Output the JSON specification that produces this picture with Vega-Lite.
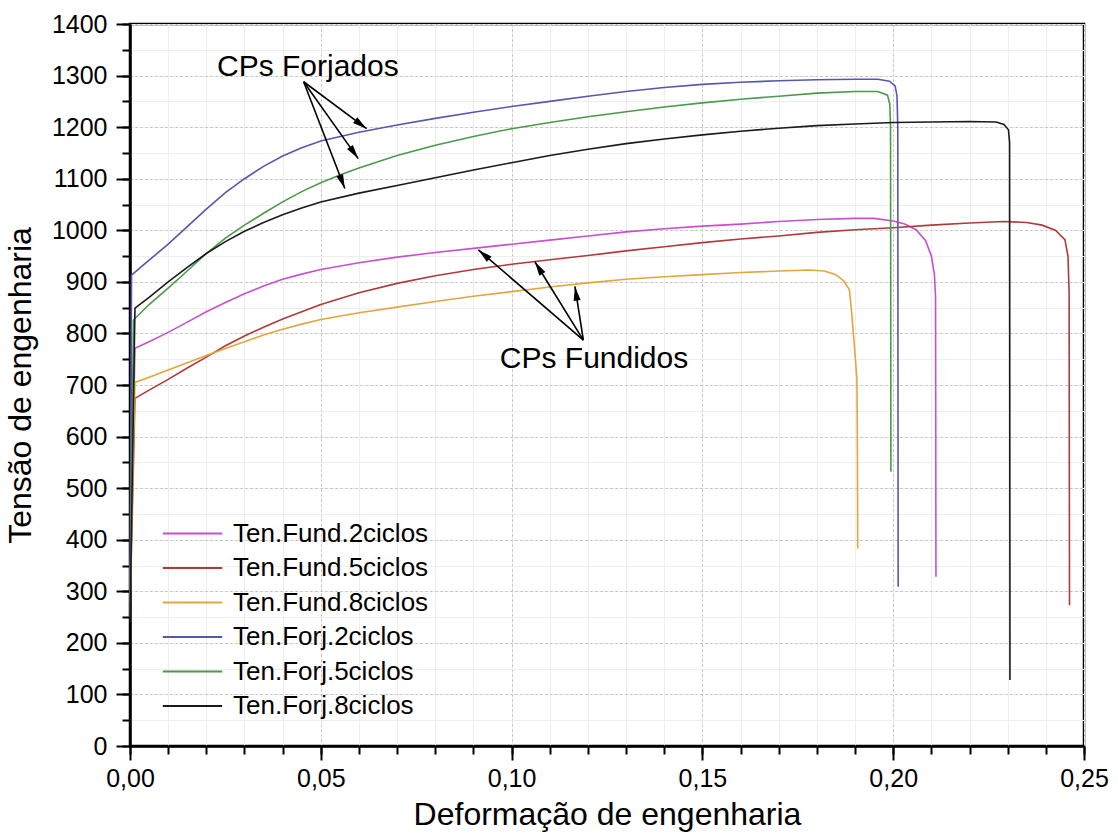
{
  "$schema": "https://vega.github.io/schema/vega-lite/v6.json",
  "width": 954,
  "height": 722,
  "autosize": {"type": "none"},
  "padding": {"left": 130, "top": 24, "right": 34, "bottom": 93},
  "background": "white",
  "config": {
    "view": {"stroke": "black", "strokeWidth": 2.5},
    "font": "Liberation Sans"
  },
  "datasets": {
    "curves": [
      {"s":"Ten.Fund.2ciclos","x":0,"y":300},{"s":"Ten.Fund.2ciclos","x":0.0013,"y":771},{"s":"Ten.Fund.2ciclos","x":0.005,"y":784},{"s":"Ten.Fund.2ciclos","x":0.01,"y":802},{"s":"Ten.Fund.2ciclos","x":0.015,"y":822},{"s":"Ten.Fund.2ciclos","x":0.02,"y":842},{"s":"Ten.Fund.2ciclos","x":0.025,"y":860},{"s":"Ten.Fund.2ciclos","x":0.03,"y":877},{"s":"Ten.Fund.2ciclos","x":0.035,"y":892},{"s":"Ten.Fund.2ciclos","x":0.04,"y":905},{"s":"Ten.Fund.2ciclos","x":0.045,"y":915},{"s":"Ten.Fund.2ciclos","x":0.05,"y":924},{"s":"Ten.Fund.2ciclos","x":0.06,"y":937},{"s":"Ten.Fund.2ciclos","x":0.07,"y":948},{"s":"Ten.Fund.2ciclos","x":0.08,"y":957},{"s":"Ten.Fund.2ciclos","x":0.09,"y":965},{"s":"Ten.Fund.2ciclos","x":0.1,"y":973},{"s":"Ten.Fund.2ciclos","x":0.11,"y":981},{"s":"Ten.Fund.2ciclos","x":0.12,"y":989},{"s":"Ten.Fund.2ciclos","x":0.13,"y":997},{"s":"Ten.Fund.2ciclos","x":0.14,"y":1003},{"s":"Ten.Fund.2ciclos","x":0.15,"y":1008},{"s":"Ten.Fund.2ciclos","x":0.16,"y":1012},{"s":"Ten.Fund.2ciclos","x":0.17,"y":1017},{"s":"Ten.Fund.2ciclos","x":0.18,"y":1021},{"s":"Ten.Fund.2ciclos","x":0.19,"y":1023},{"s":"Ten.Fund.2ciclos","x":0.195,"y":1023},{"s":"Ten.Fund.2ciclos","x":0.2,"y":1018},{"s":"Ten.Fund.2ciclos","x":0.203,"y":1012},{"s":"Ten.Fund.2ciclos","x":0.206,"y":1001},{"s":"Ten.Fund.2ciclos","x":0.2085,"y":980},{"s":"Ten.Fund.2ciclos","x":0.21,"y":950},{"s":"Ten.Fund.2ciclos","x":0.2108,"y":915},{"s":"Ten.Fund.2ciclos","x":0.2111,"y":870},{"s":"Ten.Fund.2ciclos","x":0.2112,"y":328},
      {"s":"Ten.Fund.5ciclos","x":0,"y":260},{"s":"Ten.Fund.5ciclos","x":0.0013,"y":674},{"s":"Ten.Fund.5ciclos","x":0.005,"y":690},{"s":"Ten.Fund.5ciclos","x":0.01,"y":711},{"s":"Ten.Fund.5ciclos","x":0.015,"y":733},{"s":"Ten.Fund.5ciclos","x":0.02,"y":754},{"s":"Ten.Fund.5ciclos","x":0.025,"y":776},{"s":"Ten.Fund.5ciclos","x":0.03,"y":795},{"s":"Ten.Fund.5ciclos","x":0.035,"y":812},{"s":"Ten.Fund.5ciclos","x":0.04,"y":828},{"s":"Ten.Fund.5ciclos","x":0.045,"y":842},{"s":"Ten.Fund.5ciclos","x":0.05,"y":856},{"s":"Ten.Fund.5ciclos","x":0.06,"y":879},{"s":"Ten.Fund.5ciclos","x":0.07,"y":897},{"s":"Ten.Fund.5ciclos","x":0.08,"y":912},{"s":"Ten.Fund.5ciclos","x":0.09,"y":924},{"s":"Ten.Fund.5ciclos","x":0.1,"y":934},{"s":"Ten.Fund.5ciclos","x":0.11,"y":943},{"s":"Ten.Fund.5ciclos","x":0.12,"y":951},{"s":"Ten.Fund.5ciclos","x":0.13,"y":960},{"s":"Ten.Fund.5ciclos","x":0.14,"y":968},{"s":"Ten.Fund.5ciclos","x":0.15,"y":976},{"s":"Ten.Fund.5ciclos","x":0.16,"y":983},{"s":"Ten.Fund.5ciclos","x":0.17,"y":989},{"s":"Ten.Fund.5ciclos","x":0.18,"y":996},{"s":"Ten.Fund.5ciclos","x":0.19,"y":1001},{"s":"Ten.Fund.5ciclos","x":0.2,"y":1005},{"s":"Ten.Fund.5ciclos","x":0.21,"y":1010},{"s":"Ten.Fund.5ciclos","x":0.22,"y":1014},{"s":"Ten.Fund.5ciclos","x":0.229,"y":1017},{"s":"Ten.Fund.5ciclos","x":0.235,"y":1015},{"s":"Ten.Fund.5ciclos","x":0.239,"y":1010},{"s":"Ten.Fund.5ciclos","x":0.2425,"y":1000},{"s":"Ten.Fund.5ciclos","x":0.245,"y":982},{"s":"Ten.Fund.5ciclos","x":0.2458,"y":950},{"s":"Ten.Fund.5ciclos","x":0.2461,"y":880},{"s":"Ten.Fund.5ciclos","x":0.2462,"y":273},
      {"s":"Ten.Fund.8ciclos","x":0,"y":280},{"s":"Ten.Fund.8ciclos","x":0.0013,"y":705},{"s":"Ten.Fund.8ciclos","x":0.005,"y":715},{"s":"Ten.Fund.8ciclos","x":0.01,"y":729},{"s":"Ten.Fund.8ciclos","x":0.015,"y":743},{"s":"Ten.Fund.8ciclos","x":0.02,"y":757},{"s":"Ten.Fund.8ciclos","x":0.025,"y":771},{"s":"Ten.Fund.8ciclos","x":0.03,"y":784},{"s":"Ten.Fund.8ciclos","x":0.035,"y":797},{"s":"Ten.Fund.8ciclos","x":0.04,"y":808},{"s":"Ten.Fund.8ciclos","x":0.045,"y":818},{"s":"Ten.Fund.8ciclos","x":0.05,"y":827},{"s":"Ten.Fund.8ciclos","x":0.06,"y":840},{"s":"Ten.Fund.8ciclos","x":0.07,"y":851},{"s":"Ten.Fund.8ciclos","x":0.08,"y":862},{"s":"Ten.Fund.8ciclos","x":0.09,"y":872},{"s":"Ten.Fund.8ciclos","x":0.1,"y":881},{"s":"Ten.Fund.8ciclos","x":0.11,"y":890},{"s":"Ten.Fund.8ciclos","x":0.12,"y":898},{"s":"Ten.Fund.8ciclos","x":0.13,"y":905},{"s":"Ten.Fund.8ciclos","x":0.14,"y":910},{"s":"Ten.Fund.8ciclos","x":0.15,"y":914},{"s":"Ten.Fund.8ciclos","x":0.16,"y":918},{"s":"Ten.Fund.8ciclos","x":0.17,"y":921},{"s":"Ten.Fund.8ciclos","x":0.178,"y":923},{"s":"Ten.Fund.8ciclos","x":0.182,"y":921},{"s":"Ten.Fund.8ciclos","x":0.185,"y":914},{"s":"Ten.Fund.8ciclos","x":0.187,"y":902},{"s":"Ten.Fund.8ciclos","x":0.1885,"y":885},{"s":"Ten.Fund.8ciclos","x":0.189,"y":850},{"s":"Ten.Fund.8ciclos","x":0.19,"y":760},{"s":"Ten.Fund.8ciclos","x":0.1905,"y":710},{"s":"Ten.Fund.8ciclos","x":0.1906,"y":600},{"s":"Ten.Fund.8ciclos","x":0.1907,"y":383},
      {"s":"Ten.Forj.2ciclos","x":0,"y":280},{"s":"Ten.Forj.2ciclos","x":0.0004,"y":913},{"s":"Ten.Forj.2ciclos","x":0.005,"y":942},{"s":"Ten.Forj.2ciclos","x":0.01,"y":973},{"s":"Ten.Forj.2ciclos","x":0.015,"y":1007},{"s":"Ten.Forj.2ciclos","x":0.02,"y":1041},{"s":"Ten.Forj.2ciclos","x":0.025,"y":1073},{"s":"Ten.Forj.2ciclos","x":0.03,"y":1100},{"s":"Ten.Forj.2ciclos","x":0.035,"y":1124},{"s":"Ten.Forj.2ciclos","x":0.04,"y":1144},{"s":"Ten.Forj.2ciclos","x":0.045,"y":1160},{"s":"Ten.Forj.2ciclos","x":0.05,"y":1173},{"s":"Ten.Forj.2ciclos","x":0.06,"y":1190},{"s":"Ten.Forj.2ciclos","x":0.07,"y":1204},{"s":"Ten.Forj.2ciclos","x":0.08,"y":1217},{"s":"Ten.Forj.2ciclos","x":0.09,"y":1229},{"s":"Ten.Forj.2ciclos","x":0.1,"y":1240},{"s":"Ten.Forj.2ciclos","x":0.11,"y":1250},{"s":"Ten.Forj.2ciclos","x":0.12,"y":1260},{"s":"Ten.Forj.2ciclos","x":0.13,"y":1269},{"s":"Ten.Forj.2ciclos","x":0.14,"y":1277},{"s":"Ten.Forj.2ciclos","x":0.15,"y":1283},{"s":"Ten.Forj.2ciclos","x":0.16,"y":1287},{"s":"Ten.Forj.2ciclos","x":0.17,"y":1290},{"s":"Ten.Forj.2ciclos","x":0.18,"y":1292},{"s":"Ten.Forj.2ciclos","x":0.19,"y":1293},{"s":"Ten.Forj.2ciclos","x":0.196,"y":1293},{"s":"Ten.Forj.2ciclos","x":0.199,"y":1289},{"s":"Ten.Forj.2ciclos","x":0.2005,"y":1280},{"s":"Ten.Forj.2ciclos","x":0.201,"y":1260},{"s":"Ten.Forj.2ciclos","x":0.2012,"y":1200},{"s":"Ten.Forj.2ciclos","x":0.2013,"y":309},
      {"s":"Ten.Forj.5ciclos","x":0,"y":250},{"s":"Ten.Forj.5ciclos","x":0.0009,"y":826},{"s":"Ten.Forj.5ciclos","x":0.005,"y":856},{"s":"Ten.Forj.5ciclos","x":0.01,"y":888},{"s":"Ten.Forj.5ciclos","x":0.015,"y":921},{"s":"Ten.Forj.5ciclos","x":0.02,"y":955},{"s":"Ten.Forj.5ciclos","x":0.025,"y":985},{"s":"Ten.Forj.5ciclos","x":0.03,"y":1010},{"s":"Ten.Forj.5ciclos","x":0.035,"y":1033},{"s":"Ten.Forj.5ciclos","x":0.04,"y":1055},{"s":"Ten.Forj.5ciclos","x":0.045,"y":1075},{"s":"Ten.Forj.5ciclos","x":0.05,"y":1092},{"s":"Ten.Forj.5ciclos","x":0.055,"y":1107},{"s":"Ten.Forj.5ciclos","x":0.06,"y":1121},{"s":"Ten.Forj.5ciclos","x":0.07,"y":1145},{"s":"Ten.Forj.5ciclos","x":0.08,"y":1165},{"s":"Ten.Forj.5ciclos","x":0.09,"y":1182},{"s":"Ten.Forj.5ciclos","x":0.1,"y":1197},{"s":"Ten.Forj.5ciclos","x":0.11,"y":1209},{"s":"Ten.Forj.5ciclos","x":0.12,"y":1220},{"s":"Ten.Forj.5ciclos","x":0.13,"y":1230},{"s":"Ten.Forj.5ciclos","x":0.14,"y":1239},{"s":"Ten.Forj.5ciclos","x":0.15,"y":1247},{"s":"Ten.Forj.5ciclos","x":0.16,"y":1254},{"s":"Ten.Forj.5ciclos","x":0.17,"y":1260},{"s":"Ten.Forj.5ciclos","x":0.18,"y":1266},{"s":"Ten.Forj.5ciclos","x":0.19,"y":1269},{"s":"Ten.Forj.5ciclos","x":0.196,"y":1269},{"s":"Ten.Forj.5ciclos","x":0.1985,"y":1262},{"s":"Ten.Forj.5ciclos","x":0.1991,"y":1245},{"s":"Ten.Forj.5ciclos","x":0.1993,"y":1200},{"s":"Ten.Forj.5ciclos","x":0.1994,"y":532},
      {"s":"Ten.Forj.8ciclos","x":0,"y":240},{"s":"Ten.Forj.8ciclos","x":0.0013,"y":849},{"s":"Ten.Forj.8ciclos","x":0.005,"y":870},{"s":"Ten.Forj.8ciclos","x":0.01,"y":900},{"s":"Ten.Forj.8ciclos","x":0.015,"y":928},{"s":"Ten.Forj.8ciclos","x":0.02,"y":955},{"s":"Ten.Forj.8ciclos","x":0.025,"y":978},{"s":"Ten.Forj.8ciclos","x":0.03,"y":998},{"s":"Ten.Forj.8ciclos","x":0.035,"y":1015},{"s":"Ten.Forj.8ciclos","x":0.04,"y":1030},{"s":"Ten.Forj.8ciclos","x":0.045,"y":1043},{"s":"Ten.Forj.8ciclos","x":0.05,"y":1055},{"s":"Ten.Forj.8ciclos","x":0.06,"y":1072},{"s":"Ten.Forj.8ciclos","x":0.07,"y":1087},{"s":"Ten.Forj.8ciclos","x":0.08,"y":1102},{"s":"Ten.Forj.8ciclos","x":0.09,"y":1117},{"s":"Ten.Forj.8ciclos","x":0.1,"y":1131},{"s":"Ten.Forj.8ciclos","x":0.11,"y":1145},{"s":"Ten.Forj.8ciclos","x":0.12,"y":1157},{"s":"Ten.Forj.8ciclos","x":0.13,"y":1168},{"s":"Ten.Forj.8ciclos","x":0.14,"y":1177},{"s":"Ten.Forj.8ciclos","x":0.15,"y":1185},{"s":"Ten.Forj.8ciclos","x":0.16,"y":1192},{"s":"Ten.Forj.8ciclos","x":0.17,"y":1198},{"s":"Ten.Forj.8ciclos","x":0.18,"y":1203},{"s":"Ten.Forj.8ciclos","x":0.19,"y":1206},{"s":"Ten.Forj.8ciclos","x":0.2,"y":1209},{"s":"Ten.Forj.8ciclos","x":0.21,"y":1210},{"s":"Ten.Forj.8ciclos","x":0.22,"y":1211},{"s":"Ten.Forj.8ciclos","x":0.227,"y":1210},{"s":"Ten.Forj.8ciclos","x":0.229,"y":1205},{"s":"Ten.Forj.8ciclos","x":0.2302,"y":1195},{"s":"Ten.Forj.8ciclos","x":0.2305,"y":1170},{"s":"Ten.Forj.8ciclos","x":0.2306,"y":128}
    ],
    "arrows": [
      {"x":0.0455,"y":1288,"x2":0.0620,"y2":1197},
      {"x":0.0455,"y":1288,"x2":0.0598,"y2":1139},
      {"x":0.0455,"y":1288,"x2":0.0563,"y2":1081},
      {"x":0.1188,"y":787,"x2":0.0913,"y2":962},
      {"x":0.1188,"y":787,"x2":0.1061,"y2":939},
      {"x":0.1188,"y":787,"x2":0.1166,"y2":891}
    ],
    "labels": [
      {"t":"CPs Forjados","x":0.0466,"y":1299},
      {"t":"CPs Fundidos","x":0.1216,"y":733}
    ]
  },
  "resolve": {"axis": {"x": "independent", "y": "independent"}},
  "layer": [
    {
      "data": {"values": [{"x": 0, "y": 0}]},
      "mark": {"type": "point", "opacity": 0},
      "encoding": {
        "x": {"field": "x", "type": "quantitative", "scale": {"domain": [0, 0.25], "nice": false, "zero": false},
          "axis": {"orient": "bottom", "values": [0,0.01,0.02,0.03,0.04,0.05,0.06,0.07,0.08,0.09,0.1,0.11,0.12,0.13,0.14,0.15,0.16,0.17,0.18,0.19,0.2,0.21,0.22,0.23,0.24,0.25], "labels": false, "tickSize": 8, "tickWidth": 2, "tickColor": "black", "domain": false, "grid": true, "gridColor": "#eeeeee", "gridWidth": 1, "title": null}},
        "y": {"field": "y", "type": "quantitative", "scale": {"domain": [0, 1400], "nice": false},
          "axis": {"orient": "left", "values": [0,50,100,150,200,250,300,350,400,450,500,550,600,650,700,750,800,850,900,950,1000,1050,1100,1150,1200,1250,1300,1350,1400], "labels": false, "tickSize": 8, "tickWidth": 2, "tickColor": "black", "domain": false, "grid": true, "gridColor": "#eeeeee", "gridWidth": 1, "title": null}}
      }
    },
    {
      "data": {"name": "curves"},
      "mark": {"type": "line", "strokeWidth": 1.6},
      "encoding": {
        "x": {"field": "x", "type": "quantitative",
          "axis": {"orient": "bottom", "values": [0, 0.05, 0.1, 0.15, 0.2, 0.25], "format": ".2f", "labelExpr": "replace(datum.label, '.', ',')", "tickSize": 14, "tickWidth": 2, "tickColor": "black", "domainColor": "black", "domainWidth": 2.5, "grid": true, "gridColor": "#bdbdbd", "gridDash": [2, 3], "gridWidth": 1, "labelFontSize": 25, "labelFont": "Liberation Sans", "labelColor": "black", "labelPadding": 6, "labelOverlap": false, "labelFlush": false, "title": "Deformação de engenharia", "titleFontSize": 32, "titleFont": "Liberation Sans", "titleFontWeight": "normal", "titleColor": "black", "titlePadding": 8}},
        "y": {"field": "y", "type": "quantitative",
          "axis": {"orient": "left", "values": [0,100,200,300,400,500,600,700,800,900,1000,1100,1200,1300,1400], "format": "d", "tickSize": 14, "tickWidth": 2, "tickColor": "black", "domainColor": "black", "domainWidth": 2.5, "grid": true, "gridColor": "#bdbdbd", "gridDash": [2, 3], "gridWidth": 1, "labelFontSize": 25, "labelFont": "Liberation Sans", "labelColor": "black", "labelPadding": 9, "labelOverlap": false, "labelFlush": false, "title": "Tensão de engenharia", "titleFontSize": 32, "titleFont": "Liberation Sans", "titleFontWeight": "normal", "titleColor": "black", "titlePadding": 14}},
        "color": {"field": "s", "type": "nominal",
          "scale": {"domain": ["Ten.Fund.2ciclos", "Ten.Fund.5ciclos", "Ten.Fund.8ciclos", "Ten.Forj.2ciclos", "Ten.Forj.5ciclos", "Ten.Forj.8ciclos"],
                    "range": ["#c84fd0", "#b03a3a", "#e3a63d", "#5757b0", "#4a9a4a", "#1a1a1a"]},
          "legend": {"orient": "none", "legendX": 45, "legendY": 492, "title": null, "symbolType": "M-1.8,0H1.8", "symbolSize": 1089, "symbolStrokeWidth": 2, "labelFontSize": 26, "labelFont": "Liberation Sans", "labelColor": "black", "rowPadding": 3.5, "labelOffset": 23, "labelLimit": 400}}
      }
    },
    {
      "data": {"name": "arrows"},
      "mark": {"type": "rule", "color": "black", "strokeWidth": 1.6},
      "encoding": {
        "x": {"field": "x", "type": "quantitative", "axis": null},
        "y": {"field": "y", "type": "quantitative", "axis": null},
        "x2": {"field": "x2"},
        "y2": {"field": "y2"}
      }
    },
    {
      "data": {"name": "arrows"},
      "transform": [{"calculate": "atan2((datum.x2 - datum.x) * 3816, (datum.y2 - datum.y) * 0.5157) * 180 / PI", "as": "ang"}],
      "mark": {"type": "point", "shape": "M0,0L-0.65,2.6L0.65,2.6Z", "filled": true, "color": "black", "size": 120, "opacity": 1},
      "encoding": {
        "x": {"field": "x2", "type": "quantitative", "axis": null},
        "y": {"field": "y2", "type": "quantitative", "axis": null},
        "angle": {"field": "ang", "type": "quantitative", "scale": null}
      }
    },
    {
      "data": {"name": "labels"},
      "mark": {"type": "text", "fontSize": 30, "font": "Liberation Sans", "color": "black", "align": "center", "baseline": "alphabetic"},
      "encoding": {
        "x": {"field": "x", "type": "quantitative", "axis": null},
        "y": {"field": "y", "type": "quantitative", "axis": null},
        "text": {"field": "t"}
      }
    }
  ]
}
